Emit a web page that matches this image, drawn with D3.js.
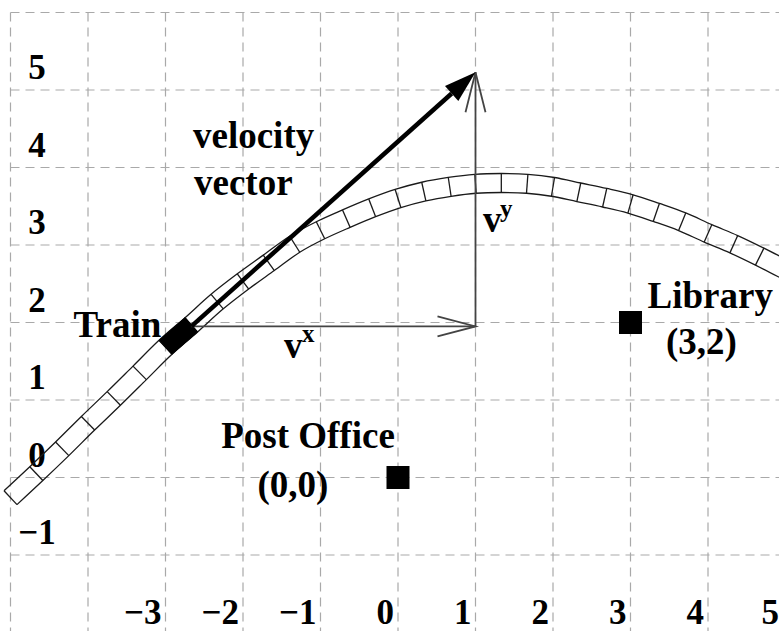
<!DOCTYPE html>
<html>
<head>
<meta charset="utf-8">
<script src="https://cdn.jsdelivr.net/npm/d3@7"></script>
<style>
  html, body { margin: 0; padding: 0; background: #fff; }
  svg { display: block; }
  text { font-family: "Liberation Serif", "Times New Roman", serif; font-weight: bold; fill: #000; }
</style>
</head>
<body>
<svg id="chart" width="779" height="631"></svg>
<script>
// ---- data ----
const gridX = [-5, -4, -3, -2, -1, 0, 1, 2, 3, 4, 5];
const gridY = [-2, -1, 0, 1, 2, 3, 4, 5, 6];
const xTickLabels = [-3, -2, -1, 0, 1, 2, 3, 4, 5];
const yTickLabels = [-1, 0, 1, 2, 3, 4, 5];

// track centre line: one point per crosstie
const trackX = [-5.0, -4.667, -4.333, -4.0, -3.667, -3.333, -3.0, -2.667, -2.333, -2.0,
                -1.667, -1.333, -1.0, -0.667, -0.333, 0.0, 0.333, 0.667, 1.0, 1.333,
                1.667, 2.0, 2.333, 2.667, 3.0, 3.333, 3.667, 4.0, 4.333, 4.667, 5.0];
const trackY = [-0.26, 0.05, 0.37, 0.70, 1.02, 1.35, 1.68, 1.97, 2.27, 2.53,
                2.77, 3.01, 3.19, 3.34, 3.48, 3.60, 3.69, 3.75, 3.79, 3.80,
                3.79, 3.75, 3.68, 3.61, 3.53, 3.42, 3.30, 3.15, 3.01, 2.85, 2.68];
const trainSegment = [-3.0, -2.667];   // the segment of track occupied by the train

const velocityStart = [-2.667, 1.95];
const velocityEnd = [1.0, 5.23];

const placeNames = ["Post Office", "Library"];
const placeCoords = [[0, 0], [3, 2]];
const placeCoordLabels = ["(0,0)", "(3,2)"];

// ---- scales ----
const svg = d3.select("#chart");
const x = d3.scaleLinear().domain([-5, 5]).range([10.5, 785.5]);
const y = d3.scaleLinear().domain([-2, 6]).range([632.5, 12.5]);

// ---- grid ----
const grid = svg.append("g").attr("stroke", "#a9a9a9").attr("stroke-width", 1.2)
  .attr("stroke-dasharray", "9,6").attr("fill", "none");
grid.selectAll("line.v").data(gridX).join("line").attr("class", "v")
  .attr("x1", d => x(d)).attr("x2", d => x(d)).attr("y1", y(6)).attr("y2", 631);
grid.selectAll("line.h").data(gridY).join("line").attr("class", "h")
  .attr("x1", x(-5)).attr("x2", 779).attr("y1", d => y(d)).attr("y2", d => y(d));

// ---- tick labels ----
const minus = d => d < 0 ? "\u2212" + Math.abs(d) : String(d);
svg.append("g").selectAll("text").data(yTickLabels).join("text")
  .attr("x", 37).attr("y", d => y(d) - 11).attr("text-anchor", "middle")
  .attr("font-size", 35).text(minus);
svg.append("g").selectAll("text").data(xTickLabels).join("text")
  .attr("x", d => Math.min(x(d) - 4, 779)).attr("y", 624).attr("text-anchor", "end")
  .attr("font-size", 35).text(minus);

// ---- track ----
const pts = trackX.map((v, i) => [x(v), y(trackY[i])]);
const hw = 9.5;
const normals = pts.map((p, i) => {
  const a = pts[Math.max(0, i - 1)], b = pts[Math.min(pts.length - 1, i + 1)];
  const dx = b[0] - a[0], dy = b[1] - a[1], L = Math.hypot(dx, dy);
  return [-dy / L, dx / L];
});
const upper = pts.map((p, i) => [p[0] + normals[i][0] * hw, p[1] + normals[i][1] * hw]);
const lower = pts.map((p, i) => [p[0] - normals[i][0] * hw, p[1] - normals[i][1] * hw]);
const line = d3.line().curve(d3.curveLinear);
const smooth = d3.line().curve(d3.curveCatmullRom.alpha(0.5));
const track = svg.append("g").attr("stroke", "#1a1a1a").attr("stroke-width", 1.3).attr("fill", "none");
track.append("path").attr("d", smooth(upper));
track.append("path").attr("d", smooth(lower));
track.selectAll("line").data(pts.map((p, i) => i)).join("line")
  .attr("x1", i => upper[i][0]).attr("y1", i => upper[i][1])
  .attr("x2", i => lower[i][0]).attr("y2", i => lower[i][1]);

// train
const i0 = trackX.indexOf(trainSegment[0]), i1 = trackX.indexOf(trainSegment[1]);
svg.append("path")
  .attr("d", line([upper[i0], upper[i1], lower[i1], lower[i0]]) + "Z")
  .attr("fill", "#000").attr("stroke", "#000").attr("stroke-width", 1);

// ---- component vectors (open heads) ----
const comp = svg.append("g").attr("stroke", "#444").attr("stroke-width", 1.8).attr("fill", "none");
const corner = [x(velocityEnd[0]), y(velocityStart[1])];
const start = [x(velocityStart[0]), y(velocityStart[1])];
const tip = [x(velocityEnd[0]), y(velocityEnd[1])];
comp.append("line").attr("x1", start[0]).attr("y1", start[1]).attr("x2", corner[0]).attr("y2", corner[1]);
comp.append("path").attr("d", line([[corner[0] - 38, corner[1] - 10], corner, [corner[0] - 38, corner[1] + 10]]));
comp.append("line").attr("x1", corner[0]).attr("y1", corner[1]).attr("x2", tip[0]).attr("y2", tip[1]);
comp.append("path").attr("d", line([[tip[0] - 10, tip[1] + 40], tip, [tip[0] + 10, tip[1] + 40]]));

// ---- velocity vector (thick, filled head) ----
const ang = Math.atan2(tip[1] - start[1], tip[0] - start[0]);
const headLen = 32, headHalf = 10;
const base = [tip[0] - headLen * Math.cos(ang), tip[1] - headLen * Math.sin(ang)];
svg.append("line").attr("x1", start[0]).attr("y1", start[1]).attr("x2", base[0]).attr("y2", base[1])
  .attr("stroke", "#000").attr("stroke-width", 4.5);
svg.append("path")
  .attr("d", line([tip,
    [base[0] + headHalf * Math.sin(ang), base[1] - headHalf * Math.cos(ang)],
    [base[0] - headHalf * Math.sin(ang), base[1] + headHalf * Math.cos(ang)]]) + "Z")
  .attr("fill", "#000");

// ---- places ----
svg.append("g").selectAll("rect").data(placeCoords).join("rect")
  .attr("x", d => x(d[0]) - 11.5).attr("y", d => y(d[1]) - 11.5)
  .attr("width", 23).attr("height", 23).attr("fill", "#000");

// ---- labels ----
const fs = 37;
svg.append("text").attr("x", x(placeCoords[0][0]) - 90).attr("y", y(placeCoords[0][1]) - 30)
  .attr("text-anchor", "middle").attr("font-size", fs).text(placeNames[0]);
svg.append("text").attr("x", x(placeCoords[0][0]) - 105).attr("y", y(placeCoords[0][1]) + 19)
  .attr("text-anchor", "middle").attr("font-size", fs).text(placeCoordLabels[0]);
svg.append("text").attr("x", x(placeCoords[1][0]) + 17).attr("y", y(placeCoords[1][1]) - 15)
  .attr("font-size", fs).text(placeNames[1]);
svg.append("text").attr("x", x(placeCoords[1][0]) + 71).attr("y", y(placeCoords[1][1]) + 31)
  .attr("text-anchor", "middle").attr("font-size", fs).text(placeCoordLabels[1]);

svg.append("text").attr("x", start[0] - 30).attr("y", start[1] + 11)
  .attr("text-anchor", "end").attr("font-size", fs).text("Train");
svg.append("text").attr("x", 193).attr("y", 148).attr("font-size", fs).text("velocity");
svg.append("text").attr("x", 194).attr("y", 195).attr("font-size", fs).text("vector");

// component labels
svg.append("text").attr("x", 284).attr("y", 358).attr("font-size", fs).text("v");
svg.append("text").attr("x", 302).attr("y", 342).attr("font-size", 25).text("x");
svg.append("text").attr("x", 483).attr("y", 232).attr("font-size", fs).text("v");
svg.append("text").attr("x", 500).attr("y", 217).attr("font-size", 25).text("y");
</script>
</body>
</html>
